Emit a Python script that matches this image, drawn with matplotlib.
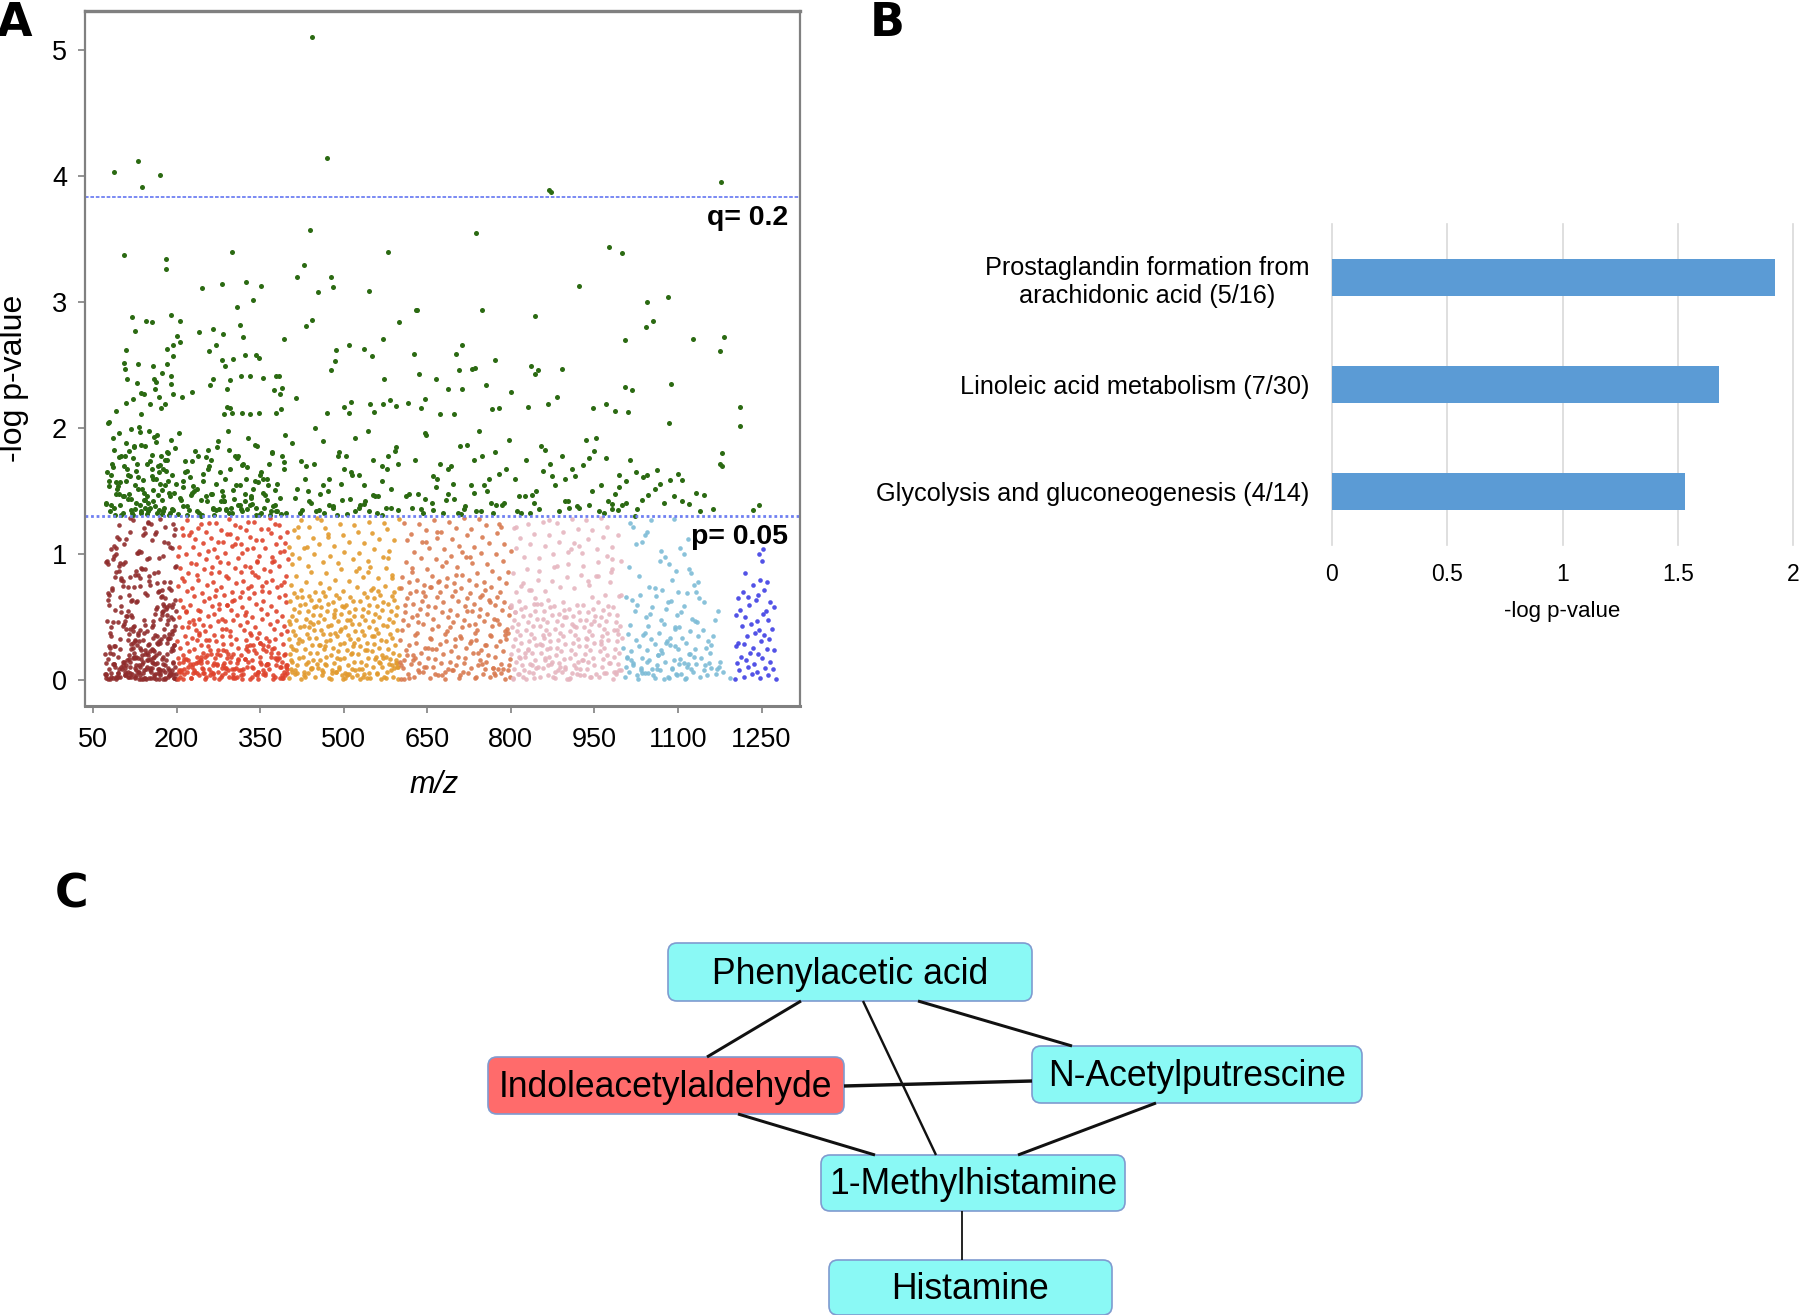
import matplotlib
matplotlib.use("Agg")
import matplotlib.pyplot as plt
from matplotlib.patches import FancyBboxPatch

plt.rcParams['font.family'] = ['Liberation Sans', 'DejaVu Sans']

# Panel A, points. m/z, and -log p in hundredths
green_mz = [443,470,87,131,138,171,869,872,1178,440,737,106,181,181,299,580,976,1000,429,417,
            478,481,454,282,324,351,245,338,308,545,923,1082,1045,630,632,749,844,443,432,600,
            1055,1043,120,190,206,145,156,125,314,266,240,283,319,392,201,206,193,183,110,270,
            259,322,343,348,301,282,287,183,194,106,108,130,157,173,111,129,160,163,190,190,
            315,332,355,378,383,265,260,296,291,374,389,385,478,484,486,509,537,550,571,626,
            702,713,771,707,730,736,635,665,573,687,713,756,800,837,848,844,891,882,1005,1127,
            1182,1175,1004,1018,1087,92,109,122,136,141,162,168,153,180,194,210,227,137,172,291,
            296,285,300,318,332,348,378,388,414,470,500,513,509,547,554,571,583,593,616,646,
            638,673,698,766,778,830,866,947,970,987,1010,1212,
            1211,1083,1179,1175,1179,1246,1235,1163,1139,1132,1146,1108,1119,1100,1108,1085,1068,1062,1045,1024,
            1014,1006,1047,1036,1007,1000,982,1022,
            78,84,92,97,104,110,116,122,127,133,138,144,149,155,160,166,172,178,184,190,
            75,82,88,94,100,106,113,119,125,131,136,142,147,153,158,164,170,176,182,188,
            80,86,91,99,108,114,120,128,135,141,146,151,157,163,168,174,180,186,192,197,
            73,79,90,96,103,111,118,124,130,137,143,150,156,161,167,173,179,185,191,196,
            205,212,219,226,233,240,247,254,261,268,275,282,289,296,303,310,317,324,331,338,
            345,352,359,366,373,380,387,394,208,215,222,230,238,245,252,259,266,273,280,287,
            294,301,308,315,322,329,336,343,350,357,364,371,378,385,392,203,211,218,227,236,
            244,256,263,271,278,285,292,299,306,313,320,327,334,341,348,355,362,369,376,390,
            408,417,425,433,441,449,457,465,473,481,489,497,505,513,521,529,537,545,553,561,
            569,577,585,593,412,421,430,438,447,455,463,471,480,488,496,504,512,520,528,536,
            544,552,560,568,576,584,592,598,618,628,638,648,658,668,678,688,698,708,718,728,
            738,748,758,768,778,788,796,622,634,646,660,672,684,696,710,722,734,746,760,772,
            784,612,642,665,692,716,742,764,808,818,828,838,850,862,874,886,898,910,922,934,
            946,958,970,982,994,815,835,855,880,905,930,952,975,993,845,892,915,940,968]
green_p = [510,414,403,412,391,401,389,387,395,357,355,337,334,326,340,340,344,339,329,320,
           320,312,308,314,316,313,311,302,296,309,313,304,300,294,294,294,289,286,281,284,
           285,280,288,290,285,285,284,277,282,279,276,275,272,271,273,268,266,263,262,266,
           261,258,258,256,255,254,249,251,257,252,247,251,249,244,239,236,239,237,241,235,
           241,241,240,241,241,239,234,238,231,230,232,227,246,253,262,266,263,257,271,259,
           259,266,254,246,247,248,243,239,239,231,231,234,229,249,246,243,247,225,270,271,
           272,261,233,230,235,214,220,223,228,227,231,225,219,219,227,225,229,211,216,217,
           216,211,212,212,211,212,212,215,224,212,217,221,212,219,213,219,222,218,220,223,
           216,211,211,215,216,217,219,216,219,214,213,217,
           202,204,180,172,170,139,135,136,134,149,147,142,140,164,159,159,156,167,163,165,
           175,158,147,143,141,139,136,130,
           205,172,148,196,133,188,162,176,141,201,152,186,134,168,193,147,178,137,158,191,
           165,139,183,154,131,170,144,199,136,161,187,149,132,174,142,195,156,134,181,146,
           134,192,157,139,178,148,133,166,197,143,172,136,160,189,135,151,175,131,163,184,
           140,158,131,177,146,168,135,185,152,133,143,198,162,138,170,132,155,180,136,149,
           196,138,166,147,182,133,158,142,175,131,190,150,136,168,144,178,134,160,139,152,
           186,133,147,172,138,156,132,195,143,165,135,154,178,131,146,170,137,185,142,160,
           133,151,176,136,148,192,140,131,163,137,155,180,134,145,168,132,158,138,174,134,
           130,183,148,135,165,142,198,133,155,139,172,136,146,187,131,160,143,134,151,178,
           188,152,135,170,141,200,148,133,160,137,178,143,132,165,192,139,155,134,175,146,
           131,168,137,185,145,133,160,142,172,135,190,150,138,131,156,178,144,134,163,140,
           198,147,133,170,137,152,182,135,148,175,136,195,141,160,133,168,144,186,138,155,
           134,178,150,133,164,141,191,137,148,196,135,172,143,156,132,187,149,134,160,181,
           139,146,133,153,170,136,198,141,160,133,175,147,136,183,162,134,142,168,137,191,
           150,134,176,140,163,146,133,186,155,137,171,192,142,135,150,178,162,139,133,204]
green_mz += [77,93,118,139,152,171,187,83,101,126,146,165,181,74,98,115,134,158,176,194,
             215,243,271,298,327,356,381,224,252,283,311,340,368,392,207,236,265,294,322,351,
             88,109,129,149,169,189,79,105,123,143,163,183,96,112,137,155,174,199,85,121,
             232,261,289,318,347,376,212,247,276,305,333,362,397,228,256,285,314,343,372,218,
             423,462,501,538,579,436,474,515,556,597,451,492,527,568,645,688,733,774,661,705,
             752,792,825,871,918,962,842,897,941,987,811,858,903,949,995,1026,1058,1092,1038,1074]
green_p += [152,144,159,137,171,149,163,178,155,146,133,166,141,157,182,139,151,168,135,174,
            143,156,137,169,149,134,161,177,146,139,158,131,173,145,152,136,183,142,165,137,
            158,172,141,165,133,154,146,186,137,160,175,148,163,134,179,143,156,169,131,150,
            148,135,171,157,139,153,164,136,178,145,160,133,149,168,142,155,137,181,131,174,
            155,168,142,178,150,139,163,146,172,134,181,137,158,144,148,175,139,162,133,155,
            168,146,172,138,155,141,160,176,148,134,166,142,182,153,136,152,146,161,141,133]

# below the p = 0.05 line, one list per m/z bin
bin1_mz = [74,92,118,145,171,196,83,109,133,160,187,78,101,126,152,179,88,114,140,166,
           193,76,97,122,148,175,85,110,136,163,190,80,104,129,155,182,72,99,124,150,
           177,90,116,142,168,195,82,107,131,158,185,75,95,120,146,173,86,112,138,165,
           192,79,103,127,153,180,89,115,141,167,194,84,108,134,161,188,77,100,125,151,
           178,91,117,143,169,197,73,98,121,147,174,87,111,137,164,191,81,105,130,156,
           183,93,119,144,170,198,76,96,123,149,176,85,113,139,162,189,74,102,128,154,
           181,94,115,135,159,184,79,106,132,157,186,72,92,118,141,172,88,110,127,166,
           193,83,101,146,175,195,77,122,152,180,90,108,137,163,188,75,99,129,158,178,
           84,116,144,170,197,81,104,133,160,191,73,96,125,150,183,87,112,140,168,194,
           78,107,134,155,176,93,120,147,185,89,100,131,161,192,74,114,143,173,82,126,
           109,153,187,76,97,138,165,95,121,179,86,148,199,103,130,171,91,157,117,190]
bin1_p = [2,1,3,1,4,2,6,5,7,4,8,9,11,10,8,12,13,3,15,6,
          14,17,9,18,16,19,21,12,24,20,23,26,15,28,25,30,5,33,22,29,
          35,27,11,38,31,40,42,7,36,44,34,47,19,50,39,52,46,55,13,58,
          37,60,43,62,17,65,56,68,48,70,24,72,10,75,53,78,64,80,32,83,
          59,86,41,88,71,90,4,93,26,96,67,99,51,102,77,105,22,108,84,111,
          45,114,63,117,30,120,92,123,74,126,8,2,3,1,5,4,14,9,12,7,
          16,6,20,11,23,10,27,15,31,18,37,21,3,25,8,33,13,41,19,29,
          49,35,54,16,61,28,69,39,76,2,82,47,89,57,6,95,66,101,34,110,
          73,118,24,128,43,1,79,12,85,58,5,91,18,97,52,107,32,115,9,124,
          68,4,40,15,55,3,64,22,48,11,81,7,36,26,94,17,44,72,104,2,
          112,10,60,1,87,20,30,6,42,122,13,28,5,75,38,8,100,14,129,50]
bin1_mz += [163,142,188,121,97,176,154,133,196,108,184,127,169,148,199,116,92,178,138,161,
            190,125,103,172,151,131,194,112,86,181,144,166,119,197,135,158,101,186,123,174,
            147,192,110,129,164,95,183,140,156,199,118,80,170,134,189,106,152,126,177,143,
            195,114,160,99,185,137,168,122,193,149,88,175,130,157,198,111,182,145,165,124,
            191,104,173,139,155,117,187,128,162,94,179,146,196,120,167,136,188,113,159,83,
            171,132,194,150,107,180,126,163,142,190,98,176,134,154,199,116,185,144,169,128]
bin1_p += [118,121,106,127,112,99,124,103,115,94,109,87,97,125,91,82,105,78,88,116,
           72,84,92,66,79,101,61,74,96,57,69,86,52,64,81,47,59,73,43,54,
           68,39,51,63,35,46,58,32,42,55,29,38,49,26,34,45,23,31,41,21,
           28,37,19,25,33,17,22,30,15,20,27,13,18,24,11,16,21,9,14,19,
           8,12,17,6,10,15,4,8,13,3,7,11,2,5,9,1,4,7,2,3,
           6,1,5,2,4,1,3,1,2,5,3,1,4,2,1,6,3,2,1,4]

bin2_mz = [203,226,251,279,305,332,358,386,214,240,266,294,320,347,373,398,208,233,258,286,
           312,338,365,392,220,246,272,299,326,352,379,205,229,255,283,309,335,362,389,217,
           243,269,296,323,349,376,211,237,262,290,316,342,369,395,223,248,275,302,329,355,
           382,206,231,257,284,311,337,364,391,218,244,270,297,324,350,377,201,227,253,281,
           307,333,360,387,215,241,267,295,321,348,374,399,209,235,260,288,314,340,367,393,
           222,247,274,301,327,354,381,204,230,256,282,308,336,363,390,216,242,268,298,325,
           351,378,212,238,263,291,317,343,370,396,224,249,276,303,330,356,383,207,232,259,
           285,313,339,366,394,219,245,271,300,328,353,380,202,228,254,280,306,334,361,388,
           213,239,265,293,319,346,372,397,210,236,261,289,315,341,368,221,250,277,304,331,
           357,384,207,234,264,292,322,345,375,225,252,278,310,344,371,400,203,241,273,318,
           348,385,216,256,287,327,359,392,229,268,299,337,378,205,247,283,316,354,395,233,
           274,308,342,386,211,261,296,332,369,222,253,290,325,364,398,238,279,313,351,383,
           209,244,270,305,339,376,218,258,294,329,367,226,265,301,346,390,204,249,286,320,
           360,397,235,272,311,349,381,214,255,297,335,373,230,267,303,344,388,208,243,282,
           323,362,393,221,260,292,331,371,236,276,315,356,399,212,251,288,326,365,240,281]
bin2_p = [1,2,1,3,2,1,4,2,5,4,6,3,5,7,4,6,8,7,9,6,
          8,10,9,7,11,10,12,9,11,13,12,14,13,15,12,14,16,13,15,17,
          16,18,15,17,19,18,20,19,21,18,20,22,19,21,23,22,24,21,23,25,
          22,26,25,27,24,26,28,27,29,30,28,31,29,32,30,33,31,34,32,35,
          33,36,34,37,35,38,36,39,40,38,41,39,42,40,43,41,44,42,45,43,
          46,44,47,48,46,49,47,50,48,51,49,52,50,53,51,54,55,53,56,54,
          57,55,58,56,59,60,58,61,59,62,60,63,61,64,65,63,66,64,67,65,
          68,66,69,70,68,71,69,72,70,73,71,74,75,73,76,74,77,75,78,76,
          79,80,78,81,79,82,80,83,81,84,85,83,86,84,87,85,88,86,89,90,
          88,91,89,92,90,93,91,94,95,93,96,94,97,95,98,96,99,100,98,101,
          99,102,100,103,101,104,105,103,106,104,107,105,108,106,109,110,108,111,109,112,
          110,113,111,114,115,113,116,114,117,115,118,116,119,120,118,121,119,122,120,123,
          121,124,125,123,126,124,127,125,128,126,129,2,5,3,7,4,8,6,10,9,
          12,11,14,13,16,15,18,17,20,19,3,1,6,2,9,4,11,7,14,10,
          17,13,20,16,24,21,28,25,32,1,4,8,12,15,19,23,27,31,36,41]
bin2_mz += [377,219,302,248,341,266,395,231,318,285,359,207,336,274,389,242,307,355,224,293,
            383,260,328,214,347,278,397,236,311,253,369,289,205,324,268,391,243,301,356,228,
            315,259,380,281,339,212,295,364,247,332,272,398,220,309,350,238,287,375,262,322,
            203,344,276,386,231,299,361,251,317,283,393,216,335,269,372,241,304,353,226,291]
bin2_p += [3,7,2,9,5,12,4,8,1,14,6,3,11,7,2,16,10,5,13,8,
           18,4,15,9,1,20,12,6,17,3,22,10,7,25,14,2,19,5,28,11,
           8,32,16,4,24,1,35,13,6,38,21,9,42,3,30,15,47,26,7,52,
           18,34,57,11,45,63,23,39,70,29,78,55,86,67,94,49,108,75,118,60]

bin3_mz = [402,424,449,473,498,523,547,572,597,412,436,461,486,510,535,560,585,405,429,454,
           479,503,528,553,578,416,441,466,491,515,540,565,590,408,432,457,482,507,531,556,
           581,419,444,469,494,518,543,568,593,403,427,452,477,501,526,551,576,414,439,464,
           489,513,538,563,588,406,431,456,481,505,530,555,580,418,443,468,493,517,542,567,
           592,401,426,451,476,500,525,550,575,413,438,463,488,512,537,562,587,409,434,459,
           484,508,533,558,583,421,446,471,496,520,545,570,595,404,428,453,478,502,527,552,
           577,415,440,465,490,514,539,564,589,407,433,458,483,506,532,557,582,420,445,470,
           495,519,544,569,594,411,435,460,485,509,534,559,584,422,447,472,497,521,546,571,
           596,403,430,455,480,504,529,554,579,417,442,467,492,516,541,566,591,410,437,462,
           487,511,536,561,586,423,448,474,499,524,549,574,599,405,432,458,484,510,535,561,
           587,414,441,469,496,522,548,575,408,436,463,490,517,543,570,420,447,475,501,528,
           555,582,402,429,456,482,509,537,564,591,418,444,471,498,525,551,578,411,438,466,
           493,519,546,573,600,424,452,479,506,533,559,586,407,435,461,488,515,541,568,595]
bin3_p = [2,1,3,2,1,4,2,3,1,5,6,4,7,5,3,6,8,9,7,10,
          8,6,9,11,7,12,10,13,11,9,12,14,10,15,13,16,14,12,15,17,
          13,18,16,19,17,15,18,20,16,21,19,22,20,18,21,23,19,24,22,25,
          23,21,24,26,22,27,25,28,26,24,27,29,25,30,28,31,29,27,30,32,
          28,33,31,34,32,30,33,35,31,36,34,37,35,33,36,38,34,39,37,40,
          38,36,39,41,37,42,40,43,41,39,42,44,40,45,43,46,44,42,45,47,
          43,48,46,49,47,45,48,50,46,51,49,52,50,48,51,53,49,54,52,55,
          53,51,54,56,52,57,55,58,56,54,57,59,55,60,58,61,59,57,60,62,
          58,63,61,64,62,60,63,65,61,66,64,67,65,63,66,68,64,69,67,70,
          68,66,69,71,67,72,70,73,71,74,72,75,73,76,78,77,80,79,82,81,
          84,83,86,85,88,87,90,89,92,91,94,93,96,95,98,97,100,99,102,101,
          104,103,106,105,108,107,110,109,112,111,114,113,116,115,118,117,120,119,122,121,
          124,123,126,125,128,127,129,6,4,9,5,12,7,15,8,18,3,2,11,14,1]
bin3_mz += [567,428,502,463,589,441,536,478,598,416,521,452,575,405,497,443,558,486,593,431,
            514,469,546,409,583,491,457,529,599,420,506,475,563,437,541,402,596,482,518,450,
            570,426,493,552,412,586,466,527,445,579,500,434,555,472,590,418,511,459,544,407]
bin3_p += [4,2,7,3,9,5,1,11,6,8,13,2,16,4,10,19,7,14,3,22,
           12,6,25,17,9,28,1,20,33,5,37,15,42,24,47,11,53,30,59,18,
           66,39,73,8,81,27,89,45,97,58,106,35,114,70,122,48,127,86,100,76]

bin4_mz = [603,627,654,681,708,735,762,789,615,642,669,696,723,750,777,606,633,660,687,714,
           741,768,795,621,648,675,702,729,756,783,609,636,663,690,717,744,771,798,624,651,
           678,705,732,759,786,612,639,666,693,720,747,774,618,645,672,699,726,753,780,601,
           630,657,684,711,738,765,792,628,655,682,709,736,763,790,604,631,658,685,712,739,
           766,793,616,643,670,697,724,751,778,607,634,661,688,715,742,769,796,622,649,676,
           703,730,757,784,610,637,664,691,718,745,772,799,625,652,679,706,733,760,787,613,
           640,667,694,721,748,775,619,646,673,700,727,754,781,602,629,656,683,710,737,764,
           791,617,644,671,698,725,752,779,605,632,659,686,713,740,767,794,623,650,677,704,
           731,758,785,611,638,665,692,719,746,773,800,626,653,680,707,734,761,788,614,641,
           668,695,722,749,776,620,647,674,701,728,755,782,608,635,662,689,716,743,770,797]
bin4_p = [1,3,2,1,4,2,3,1,5,7,4,8,6,5,9,10,8,11,9,7,
          12,10,8,13,11,14,12,10,15,13,16,14,17,15,18,16,19,17,20,18,
          21,19,22,20,23,24,22,25,23,26,24,27,28,26,29,27,30,28,31,32,
          30,33,31,34,32,35,33,36,34,37,35,38,36,39,40,38,41,39,42,40,
          43,41,44,45,43,46,44,47,45,48,46,49,50,48,51,49,52,50,53,54,
          52,55,53,56,54,57,58,56,59,57,60,58,61,59,62,63,61,64,62,65,
          63,66,67,65,68,66,69,67,70,71,69,72,70,73,71,74,75,73,76,74,
          77,78,76,79,77,80,78,81,82,80,83,81,84,85,87,86,89,88,91,90,
          93,92,95,94,97,96,99,98,101,100,103,102,105,104,107,106,109,108,111,110,
          113,112,115,114,117,116,119,118,121,120,123,122,125,124,127,126,129,128,6,12]
bin4_mz += [771,618,695,737,644,782,609,716,663,754,628,799,681,741,603,707,652,768,625,729,
            676,790,614,749,690,636,776,658,721,601,763,699,642,786,670,735,622,755,684,610,
            713,795,648,744,667,631,779,702,655,726]
bin4_p += [4,2,8,3,11,6,1,14,5,9,18,3,7,22,12,2,26,10,16,31,
           4,36,20,13,42,7,48,25,55,15,62,33,70,9,78,45,86,28,94,60,
           102,38,110,66,118,52,124,84,74,98]

bin5_mz = [803,828,852,879,905,931,958,984,814,840,866,892,918,944,971,997,806,832,858,884,
           910,936,963,989,820,846,872,898,924,950,976,809,835,861,887,913,939,966,992,817,
           843,869,895,921,947,973,801,826,855,881,907,933,960,986,812,838,864,890,916,942,
           968,994,804,830,856,882,908,934,961,987,819,845,871,897,923,949,975,807,833,859,
           885,911,937,964,990,816,842,868,894,920,946,972,999,811,837,863,889,915,941,967,
           993,802,827,853,880,906,932,959,985,813,839,865,891,917,943,970,996,805,831,857,
           883,909,935,962,988,821,847,873,899,925,951,977,808,834,860,886,912,938,965,991,
           818,844,870,896,922,948,974,800,825,854,878,904,930,957,983,815,841,867,893,919,
           945,969,995,810,836,862,888,914,940,978,822,848,874,900,926,952,980,803,829,851,
           877,903,929,956,982,998,824,850,876,902,928,954,981,809,835,861,887,913,939,966,
           816,842,868,894,920,946,972,805,831,857,883,909,935,962,988,823,849,875,901,927]
bin5_p = [2,1,3,2,1,4,3,1,5,6,4,7,5,3,6,8,9,7,10,8,
          6,9,11,7,12,10,13,11,9,12,14,15,13,16,14,12,15,17,13,18,
          16,19,17,15,18,20,21,19,22,20,18,21,23,19,24,22,25,23,21,24,
          26,22,27,25,28,26,24,27,29,25,30,28,31,29,27,30,32,33,31,34,
          32,30,33,35,31,36,34,37,35,33,36,38,34,39,37,40,38,36,39,41,
          37,42,40,43,41,39,42,44,40,45,43,46,44,42,45,47,43,48,46,49,
          47,45,48,50,46,51,49,52,50,48,51,53,54,52,55,53,51,54,56,52,
          57,55,58,56,54,57,59,60,58,61,59,57,60,62,58,63,61,64,62,60,
          66,68,67,70,72,71,74,73,76,78,77,80,79,82,84,83,86,85,88,87,
          90,92,91,94,96,95,98,97,100,102,101,104,106,105,108,107,110,109,112,114,
          113,116,115,118,120,119,122,121,124,126,125,128,127,129,5,8,11,3,1,16]
bin5_mz += [953,821,897,842,986,866,803,925,874,968,815,942,889,831,995,906,852,978,812,935,
            861,917,990,826,949,880,807,962,847,929,998,871,819,913,956,838,883,801,972,858,
            922,844,993,895,810,939,868,981,833,908]
bin5_p += [5,3,9,2,7,12,1,4,15,6,19,3,11,24,8,2,29,14,5,34,
           18,10,40,22,47,7,54,31,61,16,68,26,75,43,83,12,91,58,99,36,
           107,65,115,50,122,79,127,88,72,104]

bin6_mz = [1004,1028,1056,1084,1112,1140,1168,1193,1012,1040,1068,1096,1124,1152,1180,1006,1034,1062,1090,1118,
           1146,1174,1020,1048,1076,1104,1132,1160,1008,1036,1064,1092,1120,1148,1176,1016,1044,1072,1100,1128,
           1156,1002,1030,1058,1086,1114,1142,1170,1024,1052,1080,1108,1136,1010,1038,1066,1094,1122,1150,1046,
           1074,1102,1130,1158,1014,1042,1070,1098,1126,1154,1022,1050,1078,1106,1134,1026,1054,1082,1110,1138,
           1018,1060,1088,1116,1144,1032,1072,1100,1128,1162,1006,1048,1090,1124,1012,1058,1096,1136,1030,1068,
           1110,1172,1024,1084,1146,1040,1104,1020,1076,1132,1052,1118,1166,1070,1092,1044,1120,1014,1160,1036]
bin6_p = [3,1,4,2,1,3,5,2,7,6,8,5,9,4,7,11,10,12,9,13,
          8,11,14,16,15,17,13,10,19,18,20,16,21,12,15,23,24,22,25,19,
          14,26,27,29,28,30,18,9,32,33,31,34,35,37,36,38,41,39,26,43,
          45,42,47,22,44,50,48,52,49,31,55,53,57,54,46,60,58,62,59,65,
          64,67,63,69,40,68,72,70,76,35,66,74,80,85,90,73,87,78,83,95,
          100,55,108,92,62,115,105,122,98,70,127,112,48,103,128,118,88,125,28,110]
bin6_mz += [1082,1036,1115,1063,1098,1020,1127,1075,1044,1106,1009,1089,1058,1121,1033,1070,1102,1047,1094,1015,
            1116,1078,1027,1086,1064,1110,1041,1130,1053,1095]
bin6_p += [3,6,2,9,4,12,7,1,15,5,18,10,2,21,8,24,13,6,27,16,
           11,30,4,34,20,14,38,25,9,42]

bin7_mz = [1203,1218,1232,1247,1262,1276,1210,1226,1241,1256,1270,1206,1222,1236,1251,1266,1213,1229,1244,1259,
           1273,1204,1219,1234,1249,1264,1208,1224,1238,1254,1268,1215,1231,1246,1261,1205,1220,1242,1258,1272,
           1212,1228,1252,1265,1207,1225,1243,1217,1240,1255,1235,1248,1221,1260,1250,1245,1253]
bin7_p = [1,3,5,2,4,1,8,11,7,10,9,14,16,13,18,15,19,22,21,25,
          24,27,29,26,31,33,30,35,38,36,41,43,45,40,48,52,50,47,55,58,
          56,60,53,62,65,66,68,70,64,72,76,80,85,78,95,100,104]

bin_colors = ['#8f2c2c', '#df432c', '#e29a2d', '#d97a50', '#e6b6c0', '#7dbcd6', '#3f3fe4']
green = '#2b6a12'
blue_line = '#6f80f2'

q_line = 3.83
p_line = 1.30

mz_ticks = [50, 200, 350, 500, 650, 800, 950, 1100, 1250]
p_ticks = [0, 1, 2, 3, 4, 5]

# Panel B
pathways = ['Glycolysis and gluconeogenesis (4/14)',
            'Linoleic acid metabolism (7/30)',
            'Prostaglandin formation from\narachidonic acid (5/16)']
pathway_vals = [1.53, 1.68, 1.92]

# Panel C, boxes in picture pixels: left, top, right, bottom
node_names = ['Phenylacetic acid', 'Indoleacetylaldehyde', 'N-Acetylputrescine',
              '1-Methylhistamine', 'Histamine']
node_boxes = [(668, 943, 1032, 1001), (488, 1057, 844, 1114), (1032, 1046, 1362, 1103),
              (821, 1155, 1125, 1211), (829, 1260, 1112, 1315)]
node_colors = ['#8af9f5', '#ff6b6b', '#8af9f5', '#8af9f5', '#8af9f5']
edges = [((801, 1001), (707, 1057), 3), ((863, 1001), (936, 1155), 2.4), ((918, 1001), (1072, 1046), 3),
         ((844, 1086), (1032, 1081), 3.4), ((738, 1114), (875, 1155), 3), ((1156, 1103), (1018, 1155), 3),
         ((962, 1211), (962, 1260), 1.8)]

W, H = 1800, 1315
fig = plt.figure(figsize=(W / 100, H / 100), dpi=100)

# -------- A --------
ax = fig.add_axes([85 / W, 1 - 705.7 / H, 715 / W, 695 / H])
bins = [(bin1_mz, bin1_p), (bin2_mz, bin2_p), (bin3_mz, bin3_p), (bin4_mz, bin4_p),
        (bin5_mz, bin5_p), (bin6_mz, bin6_p), (bin7_mz, bin7_p)]
for (xs, ys), col in zip(bins, bin_colors):
    n = min(len(xs), len(ys))
    ax.scatter(xs[:n], [v / 100 for v in ys[:n]], s=11, color=col, linewidths=0, alpha=0.9)
n = min(len(green_mz), len(green_p))
ax.scatter(green_mz[:n], [v / 100 for v in green_p[:n]], s=13, color=green, linewidths=0)

ax.axhline(q_line, color=blue_line, lw=1.3, ls=(0, (2, 1)))
ax.axhline(p_line, color=blue_line, lw=2, ls=(0, (1, 1)))
ax.text(1298, 3.67, 'q= 0.2', ha='right', va='center', fontsize=20.5, fontweight='bold')
ax.text(1298, 1.14, 'p= 0.05', ha='right', va='center', fontsize=20.5, fontweight='bold')

ax.set_xlim(35.6, 1319)
ax.set_ylim(-0.2, 5.31)
ax.set_xticks(mz_ticks)
ax.set_yticks(p_ticks)
ax.tick_params(labelsize=19.5, color='#808080', length=5, width=1.2, pad=10)
ax.tick_params(axis='y', pad=8)
for s in ax.spines.values():
    s.set_color('#808080')
    s.set_linewidth(1.6)
ax.spines['top'].set_linewidth(2.4)
ax.spines['bottom'].set_linewidth(2.2)
ax.set_xlabel('m/z', fontsize=22, style='italic')
ax.xaxis.set_label_coords(0.488, -0.093)
ax.set_ylabel('-log p-value', fontsize=23)
ax.yaxis.set_label_coords(-0.078, 0.4715)

# -------- B --------
bx = fig.add_axes([1332 / W, 1 - 545 / H, 461 / W, 321 / H])
bx.barh(range(len(pathways)), pathway_vals, height=0.355, color='#5b9bd5', zorder=3)
bx.set_xlim(0, 2)
bx.set_ylim(-0.5, 2.5)
bx.set_xticks([0, 0.5, 1, 1.5, 2])
bx.set_xticklabels(['0', '0.5', '1', '1.5', '2'])
bx.set_yticks(range(len(pathways)))
bx.set_yticklabels(pathways, multialignment='center')
bx.grid(axis='x', color='#d9d9d9', lw=1.2, zorder=0)
bx.tick_params(axis='x', length=0, labelsize=16.5, pad=13)
bx.tick_params(axis='y', length=0, labelsize=18.2, pad=16)
for s in bx.spines.values():
    s.set_visible(False)
for gl in bx.get_xgridlines():
    gl.set_clip_on(False)
bx.set_xlabel('-log p-value', fontsize=16, labelpad=11)

# -------- C and the panel letters, drawn in picture pixels --------
over = fig.add_axes([0, 0, 1, 1], zorder=5)
over.set_xlim(0, W)
over.set_ylim(H, 0)
over.axis('off')
over.patch.set_alpha(0)

for p0, p1, lw in edges:
    over.plot([p0[0], p1[0]], [p0[1], p1[1]], color='#111111', lw=lw * 0.72, solid_capstyle='butt')

r = 9
for name, (x0, y0, x1, y1), col in zip(node_names, node_boxes, node_colors):
    over.add_patch(FancyBboxPatch((x0 + r, y0 + r), x1 - x0 - 2 * r, y1 - y0 - 2 * r,
                                  boxstyle='round,pad=%d,rounding_size=%d' % (r, r),
                                  fc=col, ec='#7f9bd0', lw=1.2))
    over.text((x0 + x1) / 2, (y0 + y1) / 2 + 2, name, ha='center', va='center', fontsize=25.6)

for letter, x, y in [('A', 15, 23), ('B', 887, 23), ('C', 72, 895)]:
    over.text(x, y, letter, ha='center', va='center', fontsize=33, fontweight='bold',
              family='DejaVu Sans')

fig.savefig('out.png', dpi=100)
